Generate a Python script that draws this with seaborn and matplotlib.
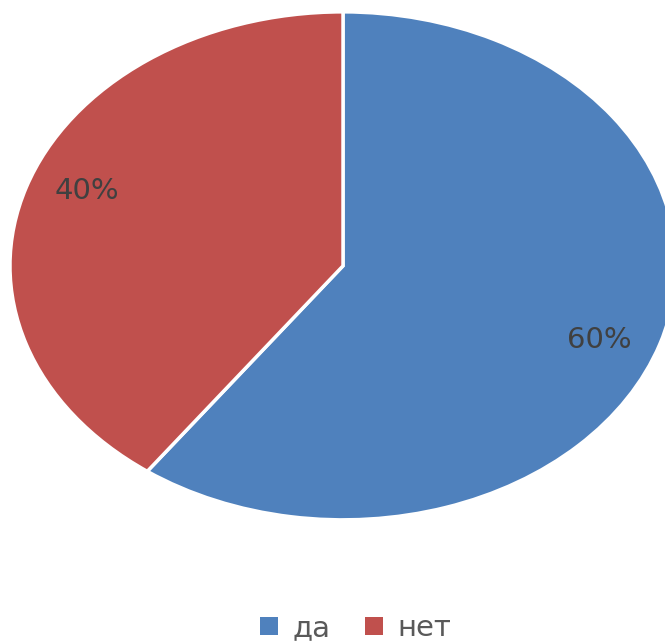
import matplotlib
matplotlib.use("Agg")
import matplotlib.pyplot as plt
from matplotlib.patches import Patch
import seaborn as sns

categories = ["да", "нет"]
values = [60, 40]
colors = ["#4F81BD", "#C0504D"]

sns.set_theme(style="white")
plt.rcParams["font.family"] = ["DejaVu Sans"]

fig = plt.figure(figsize=(6.65, 6.41), dpi=100)
ax = fig.add_axes([0.015, 0.189, 1.0016, 0.7925])
pal = sns.color_palette(colors)
wedges, texts, autotexts = ax.pie(
    values, colors=pal, startangle=90, counterclock=False,
    autopct="%1.0f%%", pctdistance=0.81,
    wedgeprops=dict(edgecolor="white", linewidth=2.5),
    textprops=dict(color="#404040", fontsize=21),
)
for t in autotexts:
    x, y = t.get_position()
    t.set_position((x * 1.0, y * 1.17))
ax.set_aspect("auto")
ax.set_xlim(-1, 1)
ax.set_ylim(-1, 1)
ax.axis("off")

handles = [Patch(facecolor=c, edgecolor="none") for c in pal]
fig.legend(handles, categories, loc="center", bbox_to_anchor=(0.535, 0.02),
           ncol=2, frameon=False, fontsize=21, labelcolor="#595959",
           handlelength=0.6, handleheight=0.6, handletextpad=0.5, columnspacing=1.2)

fig.savefig("out.png", dpi=100)
